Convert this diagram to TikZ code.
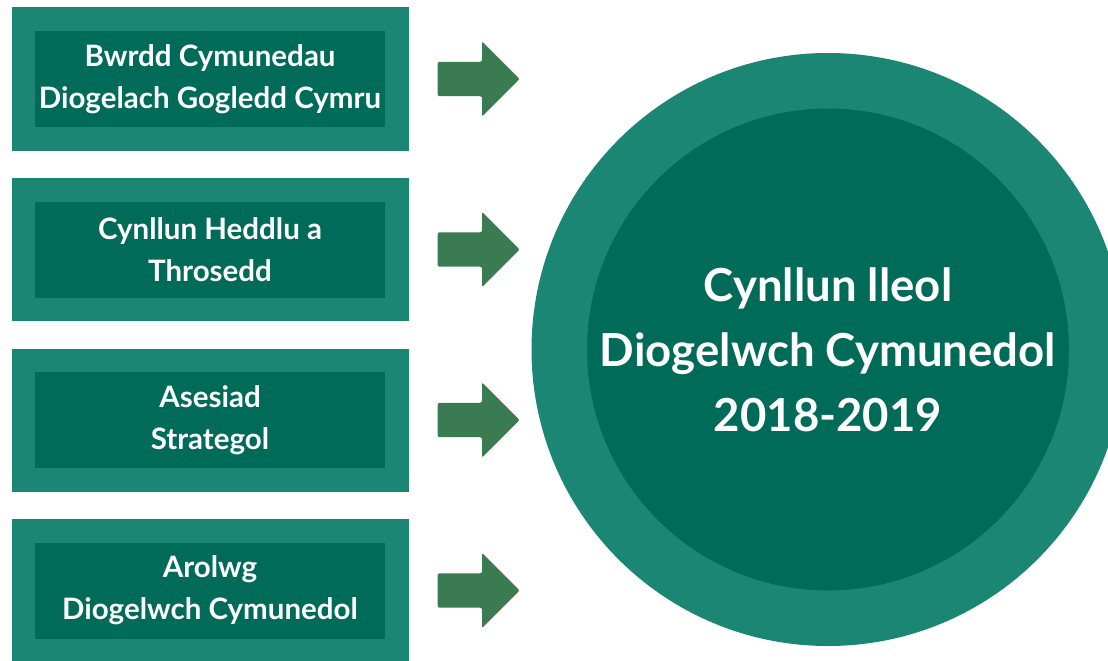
\documentclass[tikz,border=0pt]{standalone}
\usepackage{fontspec}
\setmainfont{Lato}
\usetikzlibrary{positioning,shapes.arrows}

\definecolor{ringgreen}{HTML}{1B8674}
\definecolor{coregreen}{HTML}{006B58}
\definecolor{arrowgreen}{HTML}{3A7B52}

\begin{document}
\begin{tikzpicture}[x=1pt,y=-1pt,node distance=27.5pt,
    src node/.style={rectangle,fill=coregreen,draw=ringgreen,line width=23.5pt,minimum width=373.5pt,minimum height=119.5pt,align=center,text=white,font=\fontsize{29.5}{42}\selectfont\bfseries},
    push arrow/.style={single arrow,fill=arrowgreen,draw=none,inner sep=17pt,minimum height=82pt,single arrow head extend=20.5pt,rounded corners=2pt},
    plan node/.style={circle,fill=coregreen,draw=ringgreen,line width=55.5pt,minimum size=537.5pt,align=center,text=white,font=\fontsize{45.5}{65}\selectfont\bfseries}]
                \useasboundingbox (0,0) rectangle (1108,661);
                \clip (0,0) rectangle (1108,661);

                \node[src node] (1) at (210,79) {Bwrdd Cymunedau\\Diogelach Gogledd Cymru};
                \node[src node] (2) [below=of 1] {Cynllun Heddlu a\\Throsedd};
                \node[src node] (3) [below=of 2] {Asesiad\\Strategol};
                \node[src node] (4) [below=of 3] {Arolwg\\Diogelwch Cymunedol};

                \node[push arrow] (a1) [right=29pt of 1,anchor=tail] {};
                \node[push arrow] (a2) [right=29pt of 2,anchor=tail] {};
                \node[push arrow] (a3) [right=29pt of 3,anchor=tail] {};
                \node[push arrow] (a4) [right=29pt of 4,anchor=tail] {};

                \node[plan node] (plan) at (828,349.5) {Cynllun lleol\\Diogelwch Cymunedol\\2018-2019};
            \end{tikzpicture}
\end{document}
